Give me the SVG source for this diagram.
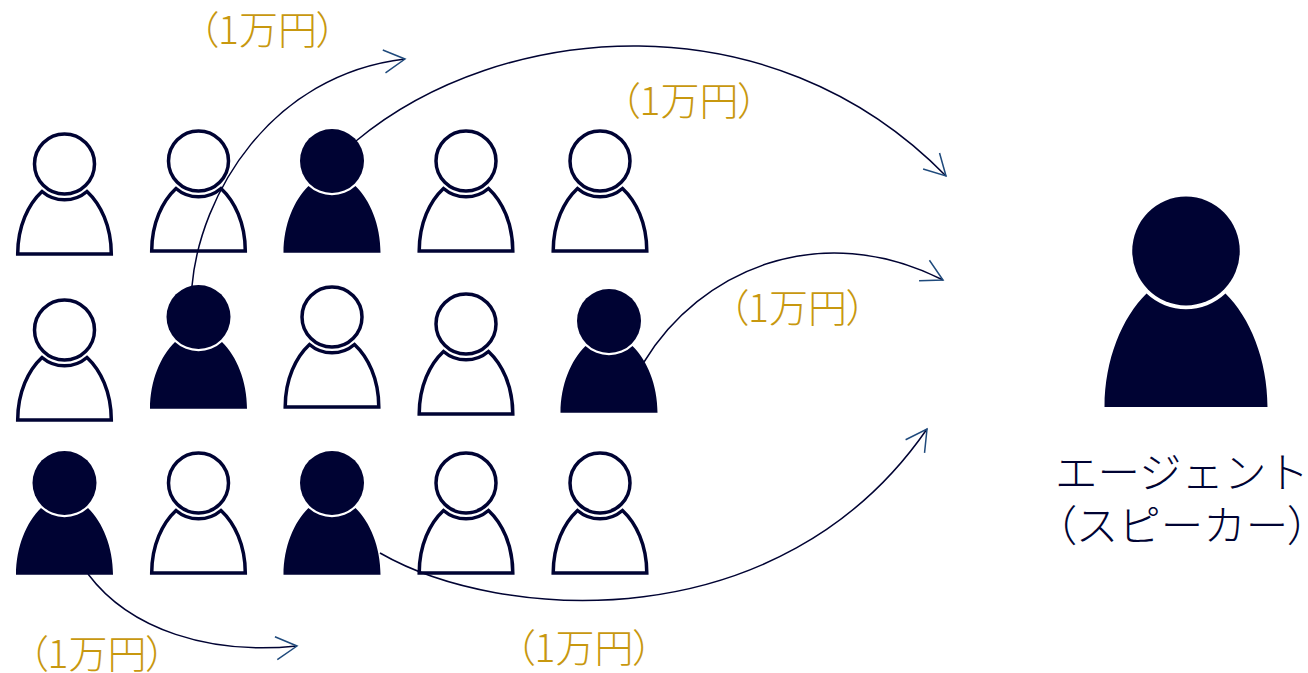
<svg xmlns="http://www.w3.org/2000/svg" width="1308" height="673" viewBox="0 0 1308 673">
<style>
.o{fill:#fff;stroke:#000333;stroke-width:3.5;stroke-linejoin:miter}
.f{fill:#000333}
.c{fill:none;stroke:#000333;stroke-width:1.5}
.l{font-family:"Noto Sans CJK JP","Noto Sans",sans-serif;font-weight:300;font-size:39px;fill:#c8980f;text-anchor:middle}
.a{font-family:"Noto Sans CJK JP","Noto Sans",sans-serif;font-weight:300;font-size:42.500px;fill:#000333;text-anchor:middle}
.p{font-feature-settings:"palt"}
</style>
<defs>
<marker id="h" markerUnits="userSpaceOnUse" markerWidth="30" markerHeight="30" refX="25" refY="15" orient="auto" overflow="visible">
<path d="M4,3.500L25,15L4,26.500" fill="none" stroke="#1f4a7c" stroke-width="1.500"/>
</marker>
<g id="po">
<circle class="o" r="30"/>
<path class="o" d="M-46.8,90C-46.8,62-36,40-22.5,27.5A34.500,34.500,0,0,0,22.500,27.500C36,40,46.800,62,46.800,90Z"/>
</g>
<g id="pf">
<circle class="f" r="32"/>
<path class="f" d="M-48.500,91.700C-48.500,64-38,39-23.500,25A34.500,34.500,0,0,0,23.500,25C38,39,48.500,64,48.500,91.700Z"/>
</g>
</defs>
<g id="p11"><use href="#po" x="64.500" y="164"/></g>
<g id="p12"><use href="#po" x="198.500" y="161"/></g>
<g id="p13"><use href="#pf" x="332" y="161"/></g>
<g id="p14"><use href="#po" x="466" y="161"/></g>
<g id="p15"><use href="#po" x="600" y="161"/></g>
<g id="p21"><use href="#po" x="64.500" y="330"/></g>
<g id="p22"><use href="#pf" x="198.500" y="317"/></g>
<g id="p23"><use href="#po" x="332" y="317"/></g>
<g id="p24"><use href="#po" x="466" y="324"/></g>
<g id="p25"><use href="#pf" x="609" y="321"/></g>
<g id="p31"><use href="#pf" x="64.500" y="483"/></g>
<g id="p32"><use href="#po" x="198.500" y="483"/></g>
<g id="p33"><use href="#pf" x="332" y="483"/></g>
<g id="p34"><use href="#po" x="466" y="483"/></g>
<g id="p35"><use href="#po" x="600" y="483"/></g>
<g id="agent"><use href="#pf" transform="translate(1186,251) scale(1.680,1.700)"/>
<text class="a" x="1182" y="488">エージェント</text>
<text class="a" x="1182" y="541"><tspan class="p">（</tspan>スピーカー<tspan class="p">）</tspan></text></g>
<g id="connectors">
<path class="c" marker-end="url(#h)" d="M192,286C200,195 270,75 405,59"/>
<path class="c" marker-end="url(#h)" d="M356,141C500,21 770,-4 946,176"/>
<path class="c" marker-end="url(#h)" d="M644,362C700,270 820,218 943,280"/>
<path class="c" marker-end="url(#h)" d="M380,553C500,622 780,642 927,429"/>
<path class="c" marker-end="url(#h)" d="M88,574C130,630 210,655 297,646"/>
</g>
<g id="labels">
<text class="l" x="267.500" y="44"><tspan class="p">（</tspan>1万円<tspan class="p">）</tspan></text>
<text class="l" x="689" y="115"><tspan class="p">（</tspan>1万円<tspan class="p">）</tspan></text>
<text class="l" x="797.500" y="322"><tspan class="p">（</tspan>1万円<tspan class="p">）</tspan></text>
<text class="l" x="584" y="662"><tspan class="p">（</tspan>1万円<tspan class="p">）</tspan></text>
<text class="l" x="97" y="668"><tspan class="p">（</tspan>1万円<tspan class="p">）</tspan></text>
</g>
</svg>
